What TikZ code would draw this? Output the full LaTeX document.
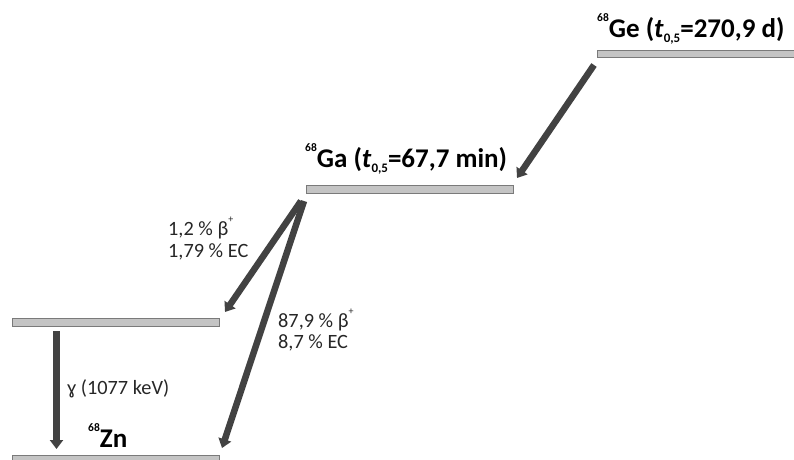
\documentclass[tikz,border=0pt]{standalone}
\usepackage{fontspec}
\setmainfont{Carlito}
\usetikzlibrary{arrows.meta}
\definecolor{arr}{HTML}{424242}
\definecolor{barfill}{HTML}{C4C4C4}
\definecolor{barline}{HTML}{7A7A7A}
\newcommand{\upsm}[1]{\raisebox{0.58em}{\fontsize{11.5}{12}\selectfont #1}}
\newcommand{\dnsm}[1]{\raisebox{-0.2em}{\fontsize{13}{13}\selectfont #1}}
\newcommand{\plussm}{\raisebox{0.6em}{\fontsize{10}{10}\selectfont +}}
\tikzset{
  level/.style={draw=barline, fill=barfill, line width=0.9pt},
  decay/.style={draw=arr, line width=6.5pt, -{Triangle[length=9pt,width=13pt]}},
  big/.style={anchor=base west, inner sep=0pt, font=\fontsize{27}{30}\selectfont\bfseries},
  small/.style={anchor=base west, inner sep=0pt, font=\fontsize{20.3}{24}\selectfont, text=black!85},
}
\begin{document}
\begin{tikzpicture}[x=1pt,y=-1pt]
\useasboundingbox (0,0) rectangle (794,459);
\clip (0,0) rectangle (794,459);
% levels
\draw[level] (597,50) rectangle (800,57);
\draw[level] (306,185) rectangle (513,193);
\draw[level] (12,318) rectangle (219,326);
\draw[level] (12,455) rectangle (219,463);
% connector end points
\coordinate (geS) at (594,65);
\coordinate (gaT) at (517,178);
\coordinate (gaS1) at (301,201);
\coordinate (gaS2) at (304,201);
\coordinate (exT) at (225,312);
\coordinate (znT) at (222,448);
\coordinate (exS) at (56.5,331);
\coordinate (znG) at (56.5,449);
% arrows
\draw[decay] (geS) -- (gaT);
\draw[decay] (gaS1) -- (exT);
\draw[decay] (gaS2) -- (znT);
\draw[decay] (exS) -- (znG);
% labels
\node[big] (geL) at (597,37) {\upsm{68}Ge (\textit{t}\dnsm{0,5}=270,9 d)};
\node[big] (gaL) at (305,167) {\upsm{68}Ga (\textit{t}\dnsm{0,5}=67,7 min)};
\node[big] (znL) at (88,447) {\upsm{68}Zn};
\node[small] (b1) at (168,235) {1,2 \% β\plussm};
\node[small] (e1) at (168,257) {1,79 \% EC};
\node[small] (b2) at (278,327) {87,9 \% β\plussm};
\node[small] (e2) at (278,348) {8,7 \% EC};
\node[small] (gm) at (67,394) {ɣ (1077 keV)};
\end{tikzpicture}
\end{document}
